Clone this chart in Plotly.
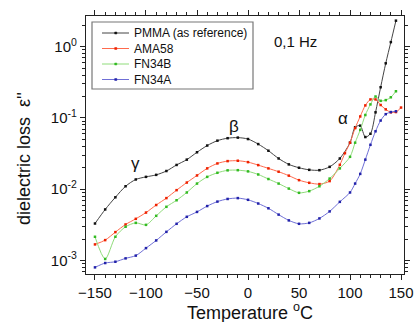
import math
import plotly.graph_objects as go

# ---- data ----
T_pmma = [-150, -140, -130, -120, -110, -100, -90, -80, -70, -60, -50, -40, -30, -20, -10, 0, 10, 20, 30, 40,
          50, 60, 70, 80, 90, 100, 105, 110, 115, 120, 125, 130, 135, 140, 145]
eps_pmma = [0.0033, 0.0052, 0.0077, 0.011, 0.0137, 0.0149, 0.0159, 0.018, 0.0219, 0.026, 0.033, 0.041, 0.048,
            0.052, 0.053, 0.0506, 0.043, 0.0347, 0.027, 0.0223, 0.020, 0.0187, 0.0185, 0.0206, 0.027, 0.045,
            0.074, 0.078, 0.054, 0.060, 0.12, 0.27, 0.585, 1.16, 2.32]

T_ama = [-150, -140, -130, -120, -110, -100, -90, -80, -70, -60, -50, -40, -30, -20, -10, 0, 10, 20, 30, 40,
         50, 60, 70, 80, 90, 95, 100, 105, 110, 115, 120, 125, 130, 135, 140, 145, 150]
eps_ama = [0.00168, 0.00193, 0.0025, 0.0032, 0.00384, 0.0047, 0.006, 0.0075, 0.0097, 0.0124, 0.0156, 0.0196,
           0.023, 0.0248, 0.0251, 0.024, 0.0218, 0.0196, 0.0176, 0.0155, 0.0134, 0.0123, 0.0118, 0.013, 0.022,
           0.032, 0.045, 0.072, 0.105, 0.15, 0.182, 0.182, 0.152, 0.132, 0.12, 0.121, 0.14]

T_fnb = [-150, -140, -130, -120, -110, -100, -90, -80, -70, -60, -50, -40, -30, -20, -10, 0, 10, 20, 30, 40,
         50, 60, 70, 80, 90, 100, 105, 110, 115, 120, 125, 130, 135, 140, 145]
eps_fnb = [0.00215, 0.00105, 0.00215, 0.00297, 0.00337, 0.00316, 0.00423, 0.00566, 0.0070, 0.009, 0.012,
           0.0149, 0.017, 0.0184, 0.0185, 0.0178, 0.0161, 0.0139, 0.012, 0.0102, 0.0089, 0.0094, 0.011, 0.0141,
           0.0196, 0.0285, 0.045, 0.068, 0.11, 0.155, 0.20, 0.174, 0.178, 0.195, 0.237]

T_fna = [-150, -140, -130, -120, -110, -100, -90, -80, -70, -60, -50, -40, -30, -20, -10, 0, 10, 20, 30, 40,
         50, 60, 70, 80, 90, 100, 105, 110, 115, 120, 125, 130, 135, 140, 145]
eps_fna = [0.0008, 0.00092, 0.00096, 0.00107, 0.00117, 0.00149, 0.00191, 0.00252, 0.00327, 0.0041, 0.0048,
           0.0058, 0.0067, 0.0073, 0.0075, 0.0071, 0.0063, 0.0054, 0.0044, 0.00365, 0.00327, 0.00337, 0.00389,
           0.00488, 0.00665, 0.009, 0.012, 0.0164, 0.026, 0.042, 0.065, 0.092, 0.113, 0.121, 0.124]

series_names = ["PMMA (as reference)", "AMA58", "FN34B", "FN34A"]
line_colors = ["#444444", "#ff6a4d", "#8fdc7a", "#6f6fd6"]
marker_colors = ["#111111", "#ee2200", "#33bb22", "#2222aa"]

x_ticks = [-150, -100, -50, 0, 50, 100, 150]
y_tickvals = [1e-3, 1e-2, 1e-1, 1e0]
y_ticktext = ["10<sup>-3</sup>", "10<sup>-2</sup>", "10<sup>-1</sup>", "10<sup>0</sup>"]

labels = [("γ", -110, 0.0233), ("β", -14, 0.077), ("α", 93, 0.099), ("0,1 Hz", 47, 1.2)]

x_title = "Temperature <sup>o</sup>C"
y_title = "dielectric loss  ε''"

FONT = "Liberation Sans, Arial, sans-serif"

# plot-area geometry in pixels (for legend / title placement)
W, H = 414, 322
ML, MR, MT, MB = 86, 10, 16, 48
PW, PH = W - ML - MR, H - MT - MB


def px(xp):
    return (xp - ML) / PW


def py(yp):
    return (H - MB - yp) / PH


fig = go.Figure()
for name, xs, ys, lc, mc in zip(series_names, [T_pmma, T_ama, T_fnb, T_fna],
                                 [eps_pmma, eps_ama, eps_fnb, eps_fna], line_colors, marker_colors):
    fig.add_trace(go.Scatter(
        x=xs, y=ys, name=name, mode="lines+markers", showlegend=False,
        line=dict(color=lc, width=1, shape="spline", smoothing=0.8),
        marker=dict(color=mc, size=2.5, symbol="square"),
    ))

for txt, xv, yv in labels:
    fig.add_annotation(x=xv, y=math.log10(yv), text=txt, showarrow=False,
                       font=dict(family=FONT, size=17 if txt != "0,1 Hz" else 15, color="#111111"))

# axis titles as annotations for exact placement
fig.add_annotation(xref="paper", yref="paper", x=px(250), y=py(311), text=x_title, showarrow=False,
                   xanchor="center", yanchor="middle", font=dict(family=FONT, size=18, color="#111111"))
fig.add_annotation(xref="paper", yref="paper", x=px(24), y=py(158), text=y_title, showarrow=False,
                   textangle=-90, xanchor="center", yanchor="middle",
                   font=dict(family=FONT, size=18, color="#111111"))

# custom legend (compact, like the reference)
fig.add_shape(type="rect", xref="paper", yref="paper", x0=px(92), x1=px(253), y0=py(89), y1=py(22),
              line=dict(color="#777777", width=1.2), fillcolor="white", layer="above")
for i, (name, lc, mc) in enumerate(zip(series_names, line_colors, marker_colors)):
    yy = 33 + i * 15.5
    fig.add_shape(type="line", xref="paper", yref="paper", x0=px(102), x1=px(129), y0=py(yy), y1=py(yy),
                  line=dict(color=lc, width=1), layer="above")
    fig.add_shape(type="rect", xref="paper", yref="paper", x0=px(114.7), x1=px(116.8), y0=py(yy + 1),
                  y1=py(yy - 1), line=dict(color=mc, width=0.5), fillcolor=mc, layer="above")
    fig.add_annotation(xref="paper", yref="paper", x=px(132), y=py(yy), xanchor="left", yanchor="middle",
                       text=name, showarrow=False, font=dict(family=FONT, size=12, color="#111111"))

minor_vals = [k * 10.0 ** e for e in range(-4, 1) for k in range(2, 10)]

fig.update_layout(
    width=W, height=H,
    margin=dict(l=ML, r=MR, t=MT, b=MB, autoexpand=False),
    paper_bgcolor="white", plot_bgcolor="white",
    font=dict(family=FONT, size=14, color="#111111"),
    showlegend=False,
    xaxis=dict(range=[-158.8, 152.9], tickvals=x_ticks, ticks="outside", ticklen=5, automargin=False,
               tickcolor="#222222", showline=True, linecolor="#222222", linewidth=1.2,
               mirror="ticks", showgrid=False, zeroline=False,
               minor=dict(dtick=10, ticks="outside", ticklen=3, tickcolor="#222222", showgrid=False),
               tickfont=dict(family=FONT, size=15)),
    yaxis=dict(type="log", range=[-3.19, 0.431], tickvals=y_tickvals, ticktext=y_ticktext, automargin=False,
               ticks="outside", ticklen=5, tickcolor="#222222", showline=True, linecolor="#222222",
               linewidth=1.2, mirror="ticks", showgrid=False, zeroline=False,
               minor=dict(tickvals=minor_vals, ticks="outside", ticklen=3, tickcolor="#222222", showgrid=False),
               tickfont=dict(family=FONT, size=15)),
)

fig.write_html("out.html", config={"displayModeBar": False},
               post_script="document.body.style.margin='0';document.body.style.overflow='hidden';")
